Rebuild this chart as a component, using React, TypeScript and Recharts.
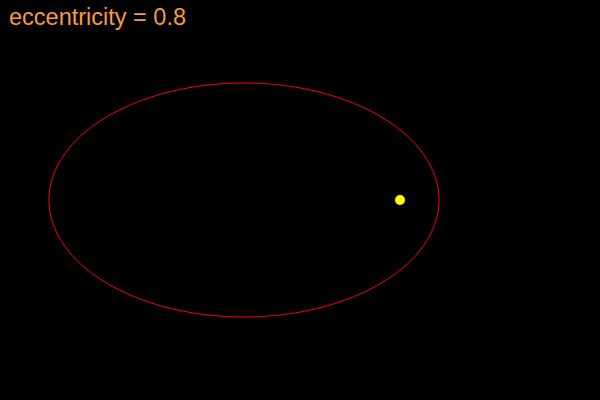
import React from "react";
import { ScatterChart, Scatter, XAxis, YAxis } from "recharts";

const eccentricity = 0.8;
const semiMajor = 195;
const orbitSteps = 240;

const semiMinor = semiMajor * Math.sqrt(1 - eccentricity * eccentricity);
const orbit = Array.from({ length: orbitSteps + 1 }, (_, i) => {
  const t = (i / orbitSteps) * 2 * Math.PI;
  return { x: semiMajor * Math.cos(t), y: semiMinor * Math.sin(t) };
});
const focus = [{ x: semiMajor * eccentricity, y: 0 }];

const NoShape = () => null;

export default function App() {
  return (
    <div style={{ position: "absolute", left: 0, top: 0, width: 600, height: 400, background: "#000" }}>
      <div
        style={{
          position: "absolute",
          left: 9,
          top: 4,
          color: "#f59c3c",
          fontFamily: "Liberation Sans, Arial, sans-serif",
          fontSize: 23.5,
        }}
      >
        eccentricity = {eccentricity}
      </div>
      <ScatterChart width={600} height={400} margin={{ top: 0, right: 0, bottom: 0, left: 0 }}>
        <XAxis type="number" dataKey="x" domain={[-244, 356]} hide />
        <YAxis type="number" dataKey="y" domain={[-200, 200]} hide />
        <Scatter
          data={orbit}
          line={{ stroke: "#ff0000", strokeWidth: 1 }}
          lineType="joint"
          lineJointType="linear"
          shape={NoShape}
          isAnimationActive={false}
        />
        <Scatter
          data={focus}
          shape={(p: any) => <circle cx={p.cx} cy={p.cy} r={5} fill="#ffff00" />}
          isAnimationActive={false}
        />
      </ScatterChart>
    </div>
  );
}
